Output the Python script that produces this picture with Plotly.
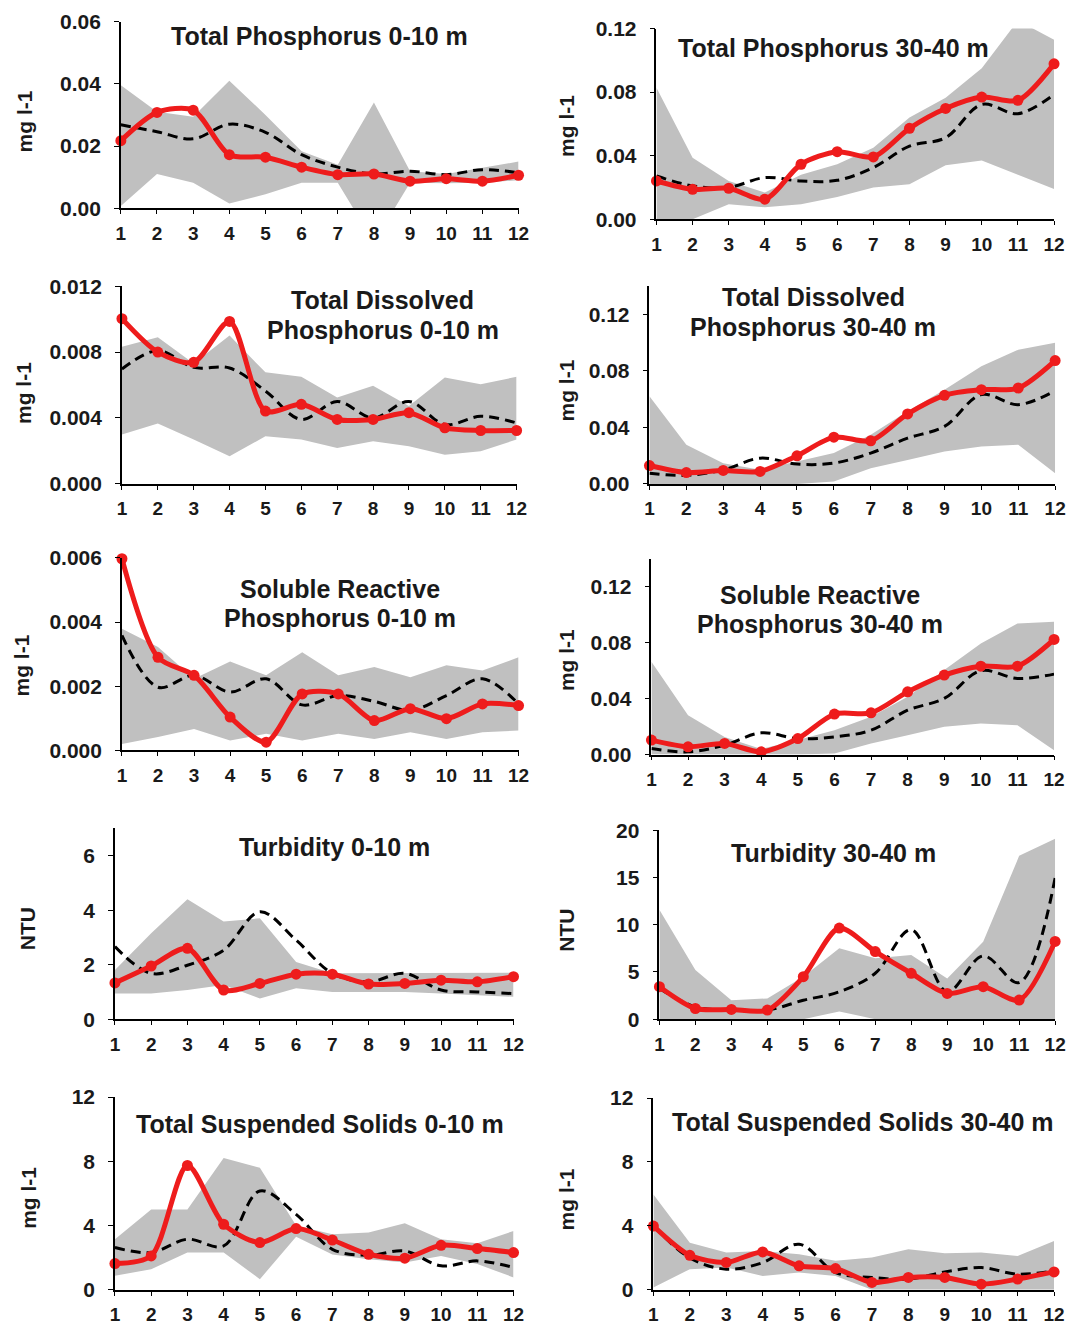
import plotly.graph_objects as go

months = list(range(1, 13))
month_labels = [str(m) for m in months]

# Total Phosphorus 0-10 m
tp_s_obs = [0.0217, 0.0308, 0.0315, 0.0172, 0.0164, 0.0132, 0.0108, 0.0110, 0.0087, 0.0095, 0.0087, 0.0106]
tp_s_mean = [0.0268, 0.0246, 0.0223, 0.0270, 0.0244, 0.0172, 0.0132, 0.0110, 0.0119, 0.0108, 0.0124, 0.0114]
tp_s_max = [0.0395, 0.0310, 0.0294, 0.0410, 0.0300, 0.0183, 0.0140, 0.0340, 0.0119, 0.0110, 0.0130, 0.0150]
tp_s_min = [0.0007, 0.0110, 0.0082, 0.0015, 0.0045, 0.0082, 0.0082, -0.0110, 0.0082, 0.0080, 0.0082, 0.0090]

# Total Phosphorus 30-40 m
tp_d_obs = [0.0241, 0.0188, 0.0195, 0.0126, 0.0346, 0.0425, 0.0392, 0.0572, 0.0697, 0.0769, 0.0748, 0.0978]
tp_d_mean = [0.0272, 0.0210, 0.0200, 0.0262, 0.0240, 0.0245, 0.0325, 0.0460, 0.0513, 0.0722, 0.0664, 0.0785]
tp_d_max = [0.0827, 0.0387, 0.0240, 0.0168, 0.0280, 0.0346, 0.0450, 0.0640, 0.0764, 0.0950, 0.1250, 0.1130]
tp_d_min = [-0.0020, 0.0000, 0.0094, 0.0075, 0.0094, 0.0140, 0.0199, 0.0220, 0.0340, 0.0370, 0.0280, 0.0190]

# Total Dissolved Phosphorus 0-10 m
tdp_s_obs = [0.01003, 0.0080, 0.00738, 0.00986, 0.00442, 0.00483, 0.00391, 0.00391, 0.00432, 0.0034, 0.00324, 0.00324]
tdp_s_mean = [0.00697, 0.00809, 0.00707, 0.00703, 0.00564, 0.00391, 0.0050, 0.0040, 0.0050, 0.0036, 0.0041, 0.0037]
tdp_s_max = [0.00833, 0.0089, 0.0073, 0.0090, 0.00677, 0.0065, 0.00524, 0.00595, 0.00473, 0.00646, 0.00605, 0.0065]
tdp_s_min = [0.0030, 0.00367, 0.00269, 0.00167, 0.00289, 0.00269, 0.00218, 0.00259, 0.00228, 0.00177, 0.00198, 0.00269]

# Total Dissolved Phosphorus 30-40 m
tdp_d_obs = [0.0130, 0.0080, 0.0095, 0.0088, 0.0199, 0.0331, 0.0305, 0.0495, 0.0627, 0.0667, 0.0679, 0.0873]
tdp_d_mean = [0.0076, 0.0060, 0.0099, 0.0182, 0.0140, 0.0147, 0.0218, 0.0324, 0.0407, 0.0632, 0.0561, 0.0660]
tdp_d_max = [0.0620, 0.0277, 0.0147, 0.0100, 0.0159, 0.0218, 0.0348, 0.0514, 0.0667, 0.0833, 0.0950, 0.0999]
tdp_d_min = [0.0, 0.0, 0.0, 0.0, 0.0, 0.0017, 0.0111, 0.0170, 0.0230, 0.0265, 0.0277, 0.0076]

# Soluble Reactive Phosphorus 0-10 m
srp_s_obs = [0.00597, 0.0029, 0.00234, 0.00104, 0.00026, 0.00176, 0.00176, 0.00093, 0.0013, 0.00099, 0.00145, 0.0014]
srp_s_mean = [0.00358, 0.00197, 0.00234, 0.00182, 0.00223, 0.00142, 0.00171, 0.00153, 0.00125, 0.00171, 0.00223, 0.00145]
srp_s_max = [0.00379, 0.00322, 0.00223, 0.00277, 0.00234, 0.00306, 0.00234, 0.0026, 0.00228, 0.00265, 0.00249, 0.0029]
srp_s_min = [0.0002, 0.00042, 0.00067, 0.00031, 0.00052, 0.00031, 0.00052, 0.00036, 0.00057, 0.00036, 0.00057, 0.00062]

# Soluble Reactive Phosphorus 30-40 m
srp_d_obs = [0.0103, 0.0055, 0.0079, 0.0019, 0.0114, 0.0289, 0.0298, 0.0448, 0.0568, 0.0632, 0.0632, 0.0823]
srp_d_mean = [0.0043, 0.0019, 0.0067, 0.0155, 0.0114, 0.0126, 0.0174, 0.0317, 0.0401, 0.0599, 0.0544, 0.0575]
srp_d_max = [0.0663, 0.0281, 0.0126, 0.0040, 0.0103, 0.0174, 0.0270, 0.0413, 0.0604, 0.0794, 0.0937, 0.0949]
srp_d_min = [0.0, 0.0, 0.0, 0.0, 0.0, 0.0007, 0.0079, 0.0138, 0.0198, 0.0222, 0.0210, 0.0031]

# Turbidity 0-10 m
tur_s_obs = [1.33, 1.95, 2.60, 1.07, 1.31, 1.65, 1.65, 1.29, 1.31, 1.43, 1.37, 1.56]
tur_s_mean = [2.66, 1.68, 1.98, 2.53, 3.94, 2.90, 1.68, 1.37, 1.68, 1.07, 1.00, 0.94]
tur_s_max = [1.80, 3.15, 4.40, 3.58, 3.70, 2.10, 1.68, 1.68, 1.70, 1.70, 1.70, 1.70]
tur_s_min = [0.94, 0.94, 1.07, 1.25, 0.76, 1.13, 1.00, 1.00, 1.00, 0.94, 0.88, 0.82]

# Turbidity 30-40 m
tur_d_obs = [3.44, 1.13, 1.03, 0.96, 4.50, 9.65, 7.16, 4.86, 2.73, 3.44, 2.02, 8.23]
tur_d_mean = [3.26, 1.30, 0.96, 0.96, 2.00, 2.90, 4.86, 9.47, 2.90, 6.70, 3.87, 14.96]
tur_d_max = [11.6, 5.2, 2.0, 2.2, 4.5, 7.5, 6.45, 6.8, 4.3, 8.2, 17.3, 19.1]
tur_d_min = [0.0, 0.0, 0.0, 0.0, 0.0, 0.8, 0.0, 0.0, 0.0, 0.0, 0.0, 0.0]

# Total Suspended Solids 0-10 m
tss_s_obs = [1.63, 2.11, 7.74, 4.08, 2.94, 3.81, 3.10, 2.21, 1.97, 2.77, 2.57, 2.32]
tss_s_mean = [2.63, 2.32, 3.15, 2.73, 6.15, 4.70, 2.52, 2.15, 2.42, 1.49, 1.80, 1.39]
tss_s_max = [3.15, 5.0, 5.0, 8.2, 7.6, 4.0, 3.46, 3.56, 4.14, 3.15, 2.90, 3.66]
tss_s_min = [0.87, 1.28, 2.32, 2.32, 0.66, 3.30, 2.20, 1.90, 1.70, 2.10, 1.60, 0.77]

# Total Suspended Solids 30-40 m
tss_d_obs = [3.99, 2.16, 1.71, 2.37, 1.50, 1.33, 0.46, 0.77, 0.77, 0.35, 0.67, 1.12]
tss_d_mean = [4.00, 2.00, 1.29, 1.70, 2.85, 1.08, 0.77, 0.67, 1.12, 1.39, 0.98, 1.19]
tss_d_max = [5.97, 2.95, 2.33, 2.43, 2.23, 1.81, 2.02, 2.54, 2.29, 2.33, 2.12, 3.06]
tss_d_min = [0.15, 1.29, 1.40, 0.87, 1.08, 0.87, 0.0, 0.0, 0.0, 0.0, 0.0, 0.0]

W, H = 1075, 1328

# panel: series, title lines, y label, y range, y dtick, tick format,
# plot box in figure pixels (left, right, top, bottom), title centre, y-label centre
panels = [
    dict(obs=tp_s_obs, mean=tp_s_mean, hi=tp_s_max, lo=tp_s_min,
         title=["Total Phosphorus 0-10 m"], ylab="mg l-1", yr=[0, 0.06], dt=0.02, fmt=".2f",
         box=(117.6, 521.3, 9.7, 199.7), tpos=(319.5, 24.9), lpos=(19.3, 111.3)),
    dict(obs=tp_d_obs, mean=tp_d_mean, hi=tp_d_max, lo=tp_d_min,
         title=["Total Phosphorus 30-40 m"], ylab="mg l-1", yr=[0, 0.12], dt=0.04, fmt=".2f",
         box=(661.3, 1064.9, 16.8, 210.9), tpos=(840.8, 37.1), lpos=(570.0, 116.4)),
    dict(obs=tdp_s_obs, mean=tdp_s_mean, hi=tdp_s_max, lo=tdp_s_min,
         title=["Total Dissolved", "Phosphorus 0-10 m"], ylab="mg l-1", yr=[0, 0.012], dt=0.004, fmt=".3f",
         box=(118.7, 519.3, 279.0, 480.2), tpos=(383.4, 308.4), lpos=(19.3, 387.7)),
    dict(obs=tdp_d_obs, mean=tdp_d_mean, hi=tdp_d_max, lo=tdp_d_min,
         title=["Total Dissolved", "Phosphorus 30-40 m"], ylab="mg l-1", yr=[0, 0.14], dt=0.04, fmt=".2f",
         box=(654.2, 1066.0, 279.0, 480.2), tpos=(820.5, 305.4), lpos=(570.0, 385.7)),
    dict(obs=srp_s_obs, mean=srp_s_mean, hi=srp_s_max, lo=srp_s_min,
         title=["Soluble Reactive", "Phosphorus 0-10 m"], ylab="mg l-1", yr=[0, 0.006], dt=0.002, fmt=".3f",
         box=(118.7, 521.3, 555.4, 751.5), tpos=(339.8, 602.1), lpos=(17.2, 665.1)),
    dict(obs=srp_d_obs, mean=srp_d_mean, hi=srp_d_max, lo=srp_d_min,
         title=["Soluble Reactive", "Phosphorus 30-40 m"], ylab="mg l-1", yr=[0, 0.14], dt=0.04, fmt=".2f",
         box=(656.2, 1064.9, 556.4, 755.6), tpos=(827.6, 608.2), lpos=(570.0, 660.0)),
    dict(obs=tur_s_obs, mean=tur_s_mean, hi=tur_s_max, lo=tur_s_min,
         title=["Turbidity 0-10 m"], ylab="NTU", yr=[0, 7], dt=2, fmt="d",
         box=(111.6, 516.2, 830.8, 1024.9), tpos=(334.7, 850.1), lpos=(22.3, 932.4)),
    dict(obs=tur_d_obs, mean=tur_d_mean, hi=tur_d_max, lo=tur_d_min,
         title=["Turbidity 30-40 m"], ylab="NTU", yr=[0, 20], dt=5, fmt="d",
         box=(664.3, 1066.0, 832.8, 1024.9), tpos=(840.8, 856.2), lpos=(570.0, 934.4)),
    dict(obs=tss_s_obs, mean=tss_s_mean, hi=tss_s_max, lo=tss_s_min,
         title=["Total Suspended Solids 0-10 m"], ylab="mg l-1", yr=[0, 12], dt=4, fmt="d",
         box=(111.6, 516.2, 1104.2, 1300.3), tpos=(319.5, 1131.6), lpos=(24.3, 1206.8)),
    dict(obs=tss_d_obs, mean=tss_d_mean, hi=tss_d_max, lo=tss_d_min,
         title=["Total Suspended Solids 30-40 m"], ylab="mg l-1", yr=[0, 12], dt=4, fmt="d",
         box=(658.2, 1064.9, 1105.2, 1300.3), tpos=(871.2, 1129.6), lpos=(570.0, 1208.8)),
]

FONT = "Liberation Sans, Arial, sans-serif"
INK = "#1a1a1a"
BAND = "#c0c0c0"
RED = "#ee1c1c"

fig = go.Figure()
layout = dict(width=W, height=H, margin=dict(l=0, r=0, t=0, b=0),
              paper_bgcolor="white", plot_bgcolor="white", showlegend=False,
              font=dict(family=FONT, color=INK))
annotations = []

for i, p in enumerate(panels, start=1):
    sfx = "" if i == 1 else str(i)
    xa, ya = "x" + sfx, "y" + sfx
    left, right, top, bottom = p["box"]

    # range band (min to max)
    fig.add_trace(go.Scatter(x=months, y=p["lo"], mode="lines", line=dict(width=0, color=BAND),
                             xaxis=xa, yaxis=ya, hoverinfo="skip"))
    fig.add_trace(go.Scatter(x=months, y=p["hi"], mode="lines", line=dict(width=0, color=BAND),
                             fill="tonexty", fillcolor=BAND, xaxis=xa, yaxis=ya, hoverinfo="skip"))
    # long-term mean
    fig.add_trace(go.Scatter(x=months, y=p["mean"], mode="lines",
                             line=dict(color="black", width=3, dash="10px,6px", shape="spline", smoothing=1.0),
                             xaxis=xa, yaxis=ya))
    # observed year
    fig.add_trace(go.Scatter(x=months, y=p["obs"], mode="lines+markers",
                             line=dict(color=RED, width=5, shape="spline", smoothing=0.8),
                             marker=dict(color=RED, size=11), cliponaxis=False,
                             xaxis=xa, yaxis=ya))

    layout["xaxis" + sfx] = dict(
        domain=[left / W, right / W], anchor=ya, range=[1, 12],
        tickmode="array", tickvals=months, ticktext=month_labels,
        showline=True, linecolor="black", linewidth=1.5, ticks="outside", ticklen=4,
        tickcolor="black", showgrid=False, zeroline=False, ticklabelstandoff=3,
        tickfont=dict(family=FONT, size=19, weight="bold", color=INK))
    layout["yaxis" + sfx] = dict(
        domain=[1 - bottom / H, 1 - top / H], anchor=xa, range=p["yr"],
        tick0=0, dtick=p["dt"], tickformat=p["fmt"],
        showline=True, linecolor="black", linewidth=1.5, ticks="outside", ticklen=5,
        tickcolor="black", showgrid=False, zeroline=False, ticklabelstandoff=9,
        tickfont=dict(family=FONT, size=21, weight="bold", color=INK))

    # title lines
    tx, ty = p["tpos"]
    lines = p["title"]
    for k, line in enumerate(lines):
        yy = ty + (k - (len(lines) - 1) / 2) * 30
        annotations.append(dict(text=line, x=tx / W, y=1 - yy / H, xref="paper", yref="paper",
                                xanchor="center", yanchor="middle", showarrow=False,
                                font=dict(family=FONT, size=25, weight="bold", color=INK)))
    # y-axis label
    lx, ly = p["lpos"]
    annotations.append(dict(text=p["ylab"], x=lx / W, y=1 - ly / H, xref="paper", yref="paper",
                            xanchor="center", yanchor="middle", showarrow=False, textangle=-90,
                            font=dict(family=FONT, size=21, weight="bold", color=INK)))

layout["annotations"] = annotations
fig.update_layout(**layout)
fig.write_html("out.html")
